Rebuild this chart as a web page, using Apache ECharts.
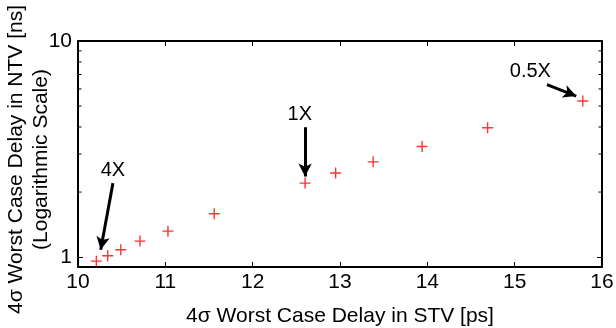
<!DOCTYPE html>
<html>
<head>
<meta charset="utf-8">
<script src="https://cdn.jsdelivr.net/npm/echarts@6/dist/echarts.min.js"></script>
<style>html,body{margin:0;padding:0;background:#fff}#c{width:616px;height:328px}</style>
</head>
<body>
<div id="c"></div>
<script>
// Data
var stvDelay = [10.21, 10.34, 10.49, 10.71, 11.03, 11.56, 12.60, 12.95, 13.38, 13.94, 14.69, 15.78];
var ntvDelay = [0.958, 1.015, 1.082, 1.186, 1.319, 1.588, 2.20, 2.45, 2.76, 3.25, 3.97, 5.28];
var xTicks = [10, 11, 12, 13, 14, 15, 16];
var yMajor = [1, 10];
var yMinor = [2, 3, 4, 5, 6, 7, 8, 9];
var annotLabels = ['4X', '1X', '0.5X'];
var annotTextPos = [[10.40, 2.52], [12.54, 4.58], [15.18, 7.24]];
var annotArrowFrom = [[10.40, 2.20], [12.60, 3.99], [15.37, 6.28]];
var annotArrowTo = [[10.26, 1.082], [12.60, 2.36], [15.705, 5.56]];

var FONT = '"Liberation Sans", Arial, sans-serif';
var chart = echarts.init(document.getElementById('c'));

var scatterData = stvDelay.map(function (x, i) { return [x, ntvDelay[i]]; });
var textData = annotLabels.map(function (t, i) { return [annotTextPos[i][0], annotTextPos[i][1], t]; });
var arrowData = annotLabels.map(function (t, i) {
  return [{ coord: annotArrowFrom[i] }, { coord: annotArrowTo[i] }];
});

chart.setOption({
  animation: false,
  backgroundColor: '#fff',
  grid: { left: 78, right: 14, top: 41, bottom: 61, containLabel: false, outerBoundsMode: 'none' },
  xAxis: [{
    type: 'value', min: xTicks[0], max: xTicks[xTicks.length - 1], interval: 1,
    name: '4σ Worst Case Delay in STV [ps]', nameLocation: 'middle', nameGap: 39, nameMoveOverlap: false,
    nameTextStyle: { fontFamily: FONT, fontSize: 21, color: '#000' },
    axisLine: { lineStyle: { color: '#000', width: 2 } },
    axisTick: { inside: true, length: 5, lineStyle: { color: '#000', width: 1 } },
    axisLabel: { fontFamily: FONT, fontSize: 21, color: '#000', margin: 5 },
    splitLine: { show: false }
  }, {
    type: 'value', position: 'top', min: xTicks[0], max: xTicks[xTicks.length - 1], interval: 1,
    axisLine: { lineStyle: { color: '#000', width: 2 } },
    axisTick: { inside: true, length: 5, lineStyle: { color: '#000', width: 1 } },
    axisLabel: { show: false }, splitLine: { show: false }
  }],
  yAxis: [{
    type: 'log', logBase: 10, min: 0.9, max: 10,
    name: '4σ Worst Case Delay in NTV [ns]\n(Logarithmic Scale)', nameLocation: 'middle', nameGap: 24, nameRotate: 90,
    nameMoveOverlap: false,
    nameTextStyle: { fontFamily: FONT, fontSize: 21, color: '#000', lineHeight: 25, align: 'center', padding: [0, 11, 0, 0] },
    axisLine: { lineStyle: { color: '#000', width: 2 } },
    axisTick: { inside: true, length: 5, lineStyle: { color: '#000', width: 1 } },
    axisLabel: {
      fontFamily: FONT, fontSize: 21, color: '#000', margin: 6,
      formatter: function (v) { return yMajor.indexOf(Math.round(v * 1000) / 1000) >= 0 ? String(Math.round(v)) : ''; }
    },
    splitLine: { show: false }
  }, {
    type: 'log', logBase: 10, min: 0.9, max: 10, position: 'right',
    axisLine: { lineStyle: { color: '#000', width: 2 } },
    axisTick: { inside: true, length: 5, lineStyle: { color: '#000', width: 1 } },
    axisLabel: { show: false }, splitLine: { show: false }
  }],
  series: [{
    type: 'custom',
    xAxisIndex: 0, yAxisIndex: 0,
    data: yMinor,
    silent: true,
    renderItem: function (params, api) {
      var v = api.value(0);
      var l = api.coord([xTicks[0], v]);
      var r = api.coord([xTicks[xTicks.length - 1], v]);
      return {
        type: 'group',
        children: [
          { type: 'line', shape: { x1: l[0], y1: l[1], x2: l[0] + 3.5, y2: l[1] }, style: { stroke: '#000', lineWidth: 1 } },
          { type: 'line', shape: { x1: r[0], y1: r[1], x2: r[0] - 3.5, y2: r[1] }, style: { stroke: '#000', lineWidth: 1 } }
        ]
      };
    }
  }, {
    type: 'scatter',
    xAxisIndex: 0, yAxisIndex: 0,
    data: scatterData,
    symbol: 'path://M0,5 L10,5 M5,0 L5,10',
    symbolSize: 11,
    itemStyle: { color: 'rgba(0,0,0,0)', borderColor: '#ff0000', borderWidth: 1.4 },
    z: 5
  }, {
    type: 'scatter',
    xAxisIndex: 0, yAxisIndex: 0,
    data: textData,
    symbolSize: 0,
    silent: true,
    itemStyle: { color: '#000', opacity: 1 },
    label: {
      show: true, position: 'inside', color: '#000', fontFamily: FONT, fontSize: 20,
      textBorderWidth: 0, textBorderColor: 'transparent', opacity: 1,
      formatter: function (p) { return p.data[2]; }
    },
    markLine: {
      silent: true,
      symbol: ['none', 'arrow'],
      symbolSize: [10, 13],
      label: { show: false },
      lineStyle: { color: '#000', width: 3, type: 'solid', opacity: 1 },
      data: arrowData
    },
    z: 6
  }]
});
</script>
</body>
</html>
